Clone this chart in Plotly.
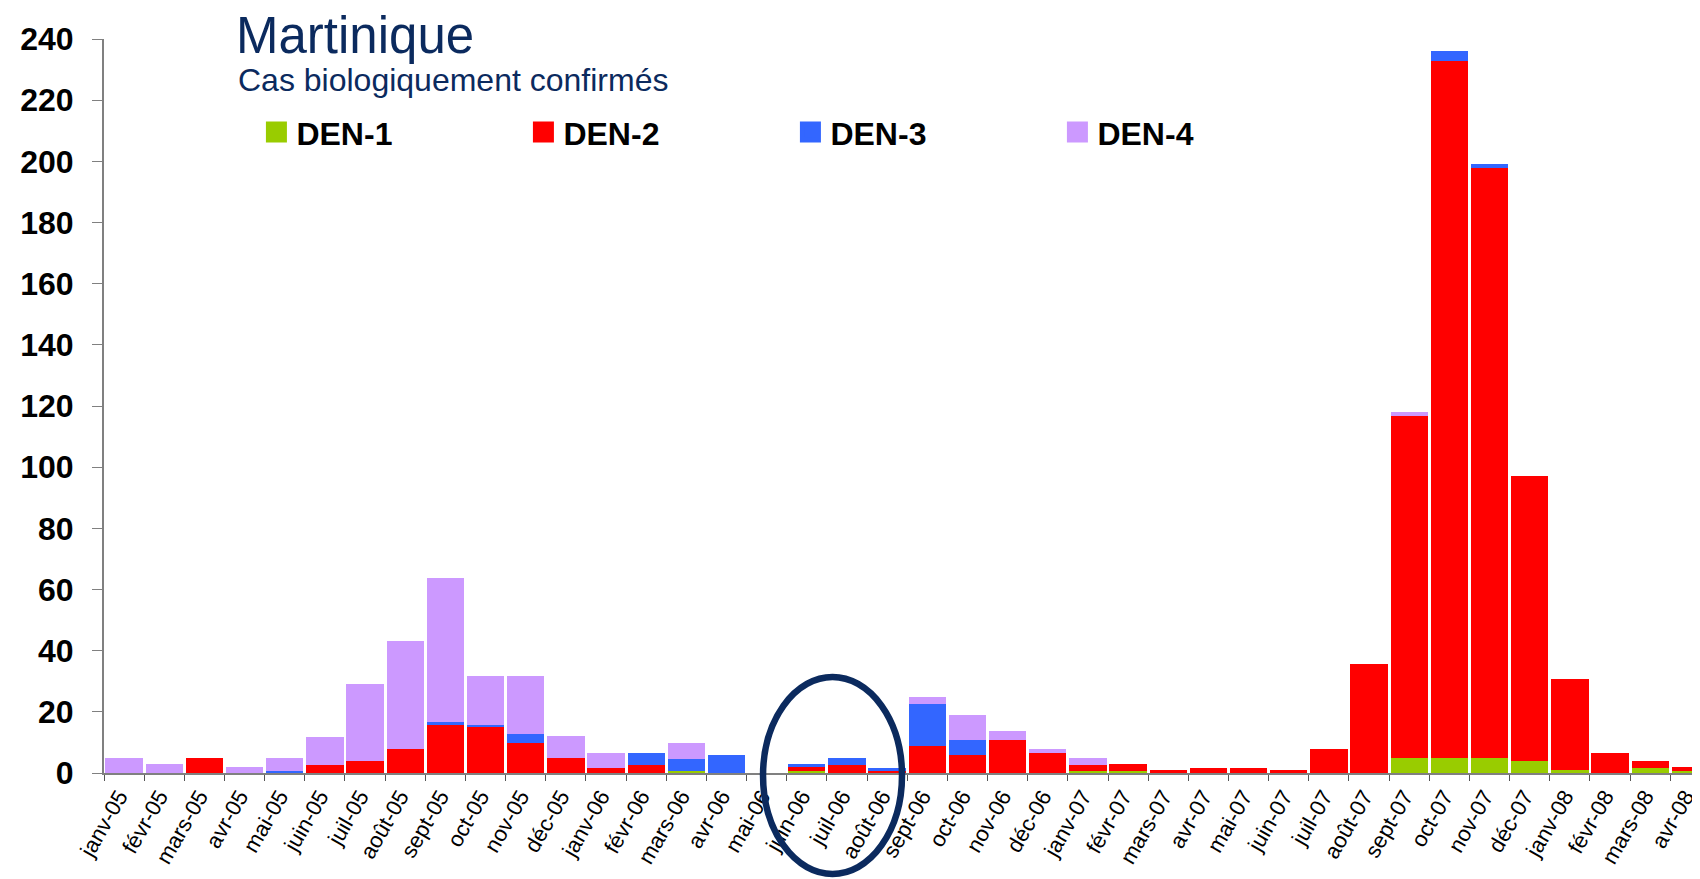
import plotly.graph_objects as go

mois = [
    "janv-05", "févr-05", "mars-05", "avr-05", "mai-05", "juin-05",
    "juil-05", "août-05", "sept-05", "oct-05", "nov-05", "déc-05",
    "janv-06", "févr-06", "mars-06", "avr-06", "mai-06", "juin-06",
    "juil-06", "août-06", "sept-06", "oct-06", "nov-06", "déc-06",
    "janv-07", "févr-07", "mars-07", "avr-07", "mai-07", "juin-07",
    "juil-07", "août-07", "sept-07", "oct-07", "nov-07", "déc-07",
    "janv-08", "févr-08", "mars-08", "avr-08",
]

den1 = [0, 0, 0, 0, 0, 0, 0, 0, 0, 0, 0, 0,
        0, 0, 0.6, 0, 0, 0.6, 0, 0, 0, 0, 0, 0,
        0.6, 0.6, 0, 0, 0, 0, 0, 0, 4.8, 4.8, 4.8, 3.8,
        0.9, 0, 1.5, 0.6]
den2 = [0, 0, 5, 0, 0, 2.7, 4, 7.9, 15.7, 14.9, 9.9, 5,
        1.5, 2.5, 0, 0, 0, 1.3, 2.5, 0.5, 8.7, 5.8, 10.7, 6.4,
        2, 2.3, 0.9, 1.8, 1.8, 0.9, 7.7, 35.8, 111.9, 228, 193, 93.3,
        30, 6.7, 2.3, 1.4]
den3 = [0, 0, 0, 0, 0.8, 0, 0, 0, 1.1, 0.9, 2.9, 0,
        0, 4.2, 3.9, 5.8, 0, 1, 2.3, 1.3, 14, 4.9, 0, 0,
        0, 0, 0, 0, 0, 0, 0, 0, 0, 3.2, 1.2, 0,
        0, 0, 0, 0]
den4 = [5, 3, 0, 2.1, 4.2, 9.1, 25.1, 35.2, 47, 16, 18.9, 7.2,
        5.2, 0, 5.2, 0, 0, 0, 0, 0, 2.3, 8.2, 2.9, 1.3,
        2.3, 0, 0, 0, 0, 0, 0, 0, 1.3, 0, 0, 0,
        0, 0, 0, 0]

series = [
    ("DEN-1", den1, "#99cc00"),
    ("DEN-2", den2, "#ff0000"),
    ("DEN-3", den3, "#3366ff"),
    ("DEN-4", den4, "#cc99ff"),
]

navy = "#0b2a5e"

# the page body adds an 8px margin, so the figure is a bit smaller
W, H = 1692, 871

fig = go.Figure()
for nom, valeurs, couleur in series:
    fig.add_trace(
        go.Bar(
            x=mois,
            y=valeurs,
            name=nom,
            legendgroup=nom,
            showlegend=False,
            marker=dict(color=couleur, line=dict(width=0)),
        )
    )
    # legend entry with a bigger square
    fig.add_trace(
        go.Scatter(
            x=[None],
            y=[None],
            mode="markers",
            name=nom,
            legendgroup=nom,
            marker=dict(symbol="square", size=16, color=couleur,
                        line=dict(color=couleur, width=5)),
        )
    )

fig.update_layout(
    width=W,
    height=H,
    barmode="stack",
    bargap=0.07,
    plot_bgcolor="white",
    paper_bgcolor="white",
    font=dict(family="Liberation Sans, Arial, sans-serif", color="black"),
    margin=dict(l=96, r=0, t=31, b=106),
    title=dict(
        text="Martinique",
        x=(236 - 8) / W,
        xanchor="left",
        y=1 - (35 - 8) / H,
        yanchor="middle",
        font=dict(size=51, color=navy),
    ),
    legend=dict(
        orientation="h",
        traceorder="normal",
        x=0.0955,
        xanchor="left",
        y=0.873,
        yanchor="middle",
        font=dict(size=32, weight="bold"),
        entrywidth=222,
        itemsizing="trace",
        bgcolor="rgba(0,0,0,0)",
    ),
    showlegend=True,
)

fig.add_annotation(
    text="Cas biologiquement confirmés",
    xref="paper", yref="paper",
    x=(236 - 104) / 1596, y=(773 - 80) / 734,
    xanchor="left", yanchor="middle",
    showarrow=False,
    font=dict(size=32, color=navy),
)

fig.update_xaxes(
    type="category",
    range=[-0.5, 39.24],
    showline=True,
    linecolor="#808080",
    linewidth=2,
    ticks="outside",
    ticklen=6,
    tickcolor="#555555",
    tickson="boundaries",
    tickangle=-60,
    ticklabelshift=-5,
    tickfont=dict(size=22, color="black"),
    showgrid=False,
)

fig.update_yaxes(
    range=[0, 240],
    dtick=20,
    showline=True,
    linecolor="#808080",
    linewidth=2,
    ticks="outside",
    ticklen=10,
    tickcolor="#808080",
    tickfont=dict(size=32, weight="bold", color="black"),
    ticklabelstandoff=12,
    showgrid=False,
    zeroline=False,
)

# ellipse around juin-aout 2006
fig.add_shape(
    type="circle",
    xref="x", yref="paper",
    x0=15.91, x1=19.37,
    y0=-0.1376, y1=0.1308,
    line=dict(color=navy, width=6.5),
    layer="above",
)

fig.write_html("out.html")
